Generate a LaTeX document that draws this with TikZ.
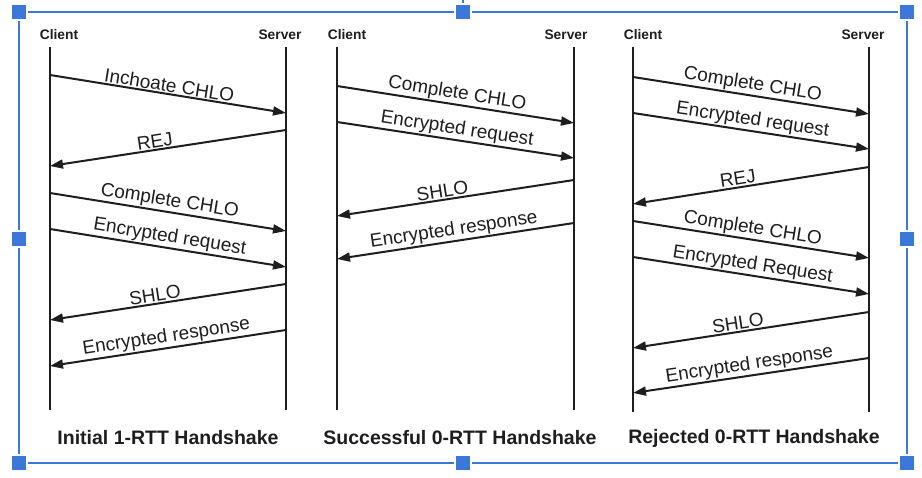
\documentclass[tikz,border=0pt]{standalone}
\usepackage{fontspec}
\setmainfont{Liberation Sans}
\usetikzlibrary{arrows.meta}
\definecolor{selblue}{RGB}{60,120,216}
\definecolor{ink}{RGB}{30,30,30}
\begin{document}
\begin{tikzpicture}[x=1pt,y=-1pt,
 life/.style={draw=ink,line width=2.1pt},
 msg/.style={draw=ink,line width=2pt,-{Triangle[length=13pt,width=9pt]}},
 lbl/.style={font=\fontsize{19}{20}\selectfont,text=ink,sloped,above,inner sep=1pt,midway},
 hdr/.style={font=\bfseries\fontsize{13.8}{15}\selectfont,text=ink,inner sep=0pt},
 captxt/.style={font=\bfseries\fontsize{19.5}{21}\selectfont,text=ink,inner sep=0pt},
 handle/.style={fill=selblue,minimum size=14pt,inner sep=0pt,outer sep=2pt},
 sel/.style={draw=selblue,line width=2pt}]
\useasboundingbox[fill=white] (0,0) rectangle (922,478);

% selection frame
\node[handle] (htl) at (19,12.5) {};
\node[handle] (htm) at (463,12.5) {};
\node[handle] (htr) at (907,12.5) {};
\node[handle] (hml) at (19,239) {};
\node[handle] (hmr) at (907,239) {};
\node[handle] (hbl) at (19,463) {};
\node[handle] (hbm) at (463,463) {};
\node[handle] (hbr) at (907,463) {};
\coordinate (rot) at (463,0);
\draw[sel] (htl) -- (htm);
\draw[sel] (htm) -- (htr);
\draw[sel] (hbl) -- (hbm);
\draw[sel] (hbm) -- (hbr);
\draw[sel] (htl) -- (hml);
\draw[sel] (hml) -- (hbl);
\draw[sel] (htr) -- (hmr);
\draw[sel] (hmr) -- (hbr);
\draw[selblue,line width=1.5pt] (rot) -- (htm.north);

% ---------- Diagram 1 ----------
\node[hdr] (c1h) at (59,35) {Client};
\node[hdr] (s1h) at (280,35) {Server};
\coordinate (c1t) at (50,47); \coordinate (c1b) at (50,410);
\coordinate (s1t) at (286,47); \coordinate (s1b) at (286,410);
\draw[life] (c1t) -- (c1b);
\draw[life] (s1t) -- (s1b);
\coordinate (a1a) at (50,75);   \coordinate (a1b) at (286,113);
\coordinate (a2a) at (286,130); \coordinate (a2b) at (50,166);
\coordinate (a3a) at (50,193);  \coordinate (a3b) at (286,231);
\coordinate (a4a) at (50,229);  \coordinate (a4b) at (286,267);
\coordinate (a5a) at (286,284); \coordinate (a5b) at (50,320);
\coordinate (a6a) at (286,330); \coordinate (a6b) at (50,366);
\draw[msg] (a1a) -- node[lbl] {Inchoate CHLO} (a1b);
\draw[msg] (a2a) -- node[lbl,pos=0.55] {REJ} (a2b);
\draw[msg] (a3a) -- node[lbl] {Complete CHLO} (a3b);
\draw[msg] (a4a) -- node[lbl] {Encrypted request} (a4b);
\draw[msg] (a5a) -- node[lbl,pos=0.55] {SHLO} (a5b);
\draw[msg] (a6a) -- node[lbl] {Encrypted response} (a6b);
\node[captxt] (cap1) at (168,438) {Initial 1-RTT Handshake};

% ---------- Diagram 2 ----------
\node[hdr] (c2h) at (347,35) {Client};
\node[hdr] (s2h) at (566,35) {Server};
\coordinate (c2t) at (337,47); \coordinate (c2b) at (337,410);
\coordinate (s2t) at (574,47); \coordinate (s2b) at (574,410);
\draw[life] (c2t) -- (c2b);
\draw[life] (s2t) -- (s2b);
\coordinate (b1a) at (337,86);  \coordinate (b1b) at (574,123);
\coordinate (b2a) at (337,122); \coordinate (b2b) at (574,158);
\coordinate (b3a) at (574,180); \coordinate (b3b) at (337,216);
\coordinate (b4a) at (574,223); \coordinate (b4b) at (337,259);
\draw[msg] (b1a) -- node[lbl] {Complete CHLO} (b1b);
\draw[msg] (b2a) -- node[lbl] {Encrypted request} (b2b);
\draw[msg] (b3a) -- node[lbl,pos=0.55] {SHLO} (b3b);
\draw[msg] (b4a) -- node[lbl] {Encrypted response} (b4b);
\node[captxt] (cap2) at (460,438) {Successful 0-RTT Handshake};

% ---------- Diagram 3 ----------
\node[hdr] (c3h) at (643,35) {Client};
\node[hdr] (s3h) at (863,35) {Server};
\coordinate (c3t) at (633,47); \coordinate (c3b) at (633,412);
\coordinate (s3t) at (869,47); \coordinate (s3b) at (869,412);
\draw[life] (c3t) -- (c3b);
\draw[life] (s3t) -- (s3b);
\coordinate (d1a) at (633,77);  \coordinate (d1b) at (869,114);
\coordinate (d2a) at (633,113); \coordinate (d2b) at (869,149);
\coordinate (d3a) at (869,167); \coordinate (d3b) at (633,204);
\coordinate (d4a) at (633,221); \coordinate (d4b) at (869,258);
\coordinate (d5a) at (633,257); \coordinate (d5b) at (869,294);
\coordinate (d6a) at (869,312); \coordinate (d6b) at (633,348);
\coordinate (d7a) at (869,358); \coordinate (d7b) at (633,393);
\draw[msg] (d1a) -- node[lbl] {Complete CHLO} (d1b);
\draw[msg] (d2a) -- node[lbl] {Encrypted request} (d2b);
\draw[msg] (d3a) -- node[lbl,pos=0.55] {REJ} (d3b);
\draw[msg] (d4a) -- node[lbl] {Complete CHLO} (d4b);
\draw[msg] (d5a) -- node[lbl] {Encrypted Request} (d5b);
\draw[msg] (d6a) -- node[lbl,pos=0.55] {SHLO} (d6b);
\draw[msg] (d7a) -- node[lbl] {Encrypted response} (d7b);
\node[captxt] (cap3) at (754,438) {Rejected 0-RTT Handshake};
\end{tikzpicture}
\end{document}
